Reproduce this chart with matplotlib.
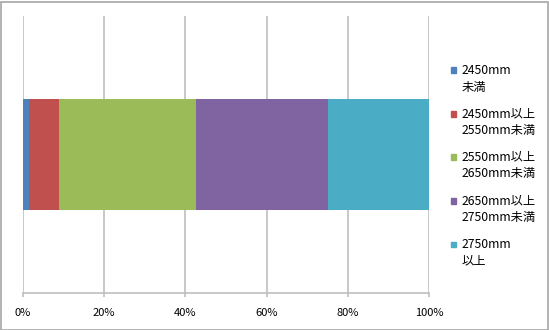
import matplotlib
matplotlib.use("Agg")
import matplotlib.pyplot as plt
from matplotlib.patches import Rectangle
from matplotlib.ticker import PercentFormatter

plt.rcParams['font.family'] = ['Noto Sans CJK JP', 'DejaVu Sans']

categories = [""]
series_labels = ["2450mm\n未満", "2450mm以上\n2550mm未満", "2550mm以上\n2650mm未満",
                 "2650mm以上\n2750mm未満", "2750mm\n以上"]
series_values = [1.6, 7.3, 33.6, 32.5, 25.0]
colors = ["#4F81BD", "#C0504D", "#9BBB59", "#8064A2", "#4BACC6"]
xticks = [0, 20, 40, 60, 80, 100]

W, H = 549, 330
fig = plt.figure(figsize=(W / 100, H / 100), dpi=100)
ax = fig.add_axes([23 / W, (H - 292.5) / H, (429 - 23) / W, (292.5 - 16) / H])

left = 0
for lab, v, c in zip(series_labels, series_values, colors):
    ax.barh(0, v, left=left, height=0.4, color=c, edgecolor='none', zorder=3, label=lab)
    left += v

ax.set_xlim(0, 100)
ax.set_ylim(-0.5, 0.5)
ax.set_xticks(xticks)
ax.xaxis.set_major_formatter(PercentFormatter(decimals=0))
ax.set_yticks([])
ax.grid(axis='x', color='#BFBFBF', linewidth=1.2, zorder=0)
for s in ['top', 'right', 'left']:
    ax.spines[s].set_visible(False)
ax.spines['bottom'].set_color('#BFBFBF')
ax.spines['bottom'].set_linewidth(1.2)
ax.tick_params(axis='x', length=3, width=1.2, color='#BFBFBF', labelsize=8, pad=8,
               labelcolor='#000000')

# legend (manual, text top-aligned with marker on first line)
y0 = 70
step = 43.5
for i, (lab, c) in enumerate(zip(series_labels, colors)):
    y = y0 + i * step
    fig.patches.append(Rectangle((450.5 / W, (H - y - 3) / H), 5.5 / W, 5.5 / H,
                                 transform=fig.transFigure, color=c, figure=fig))
    l1, l2 = lab.split("\n")
    fig.text(461.5 / W, (H - y) / H, l1, fontsize=8.8, va='center', ha='left')
    fig.text(461.5 / W, (H - y - 17) / H, l2, fontsize=8.8, va='center', ha='left')

# chart border
fig.patches.append(Rectangle((0.5 / W, 0.5 / H), (W - 2) / W, (H - 2) / H,
                             transform=fig.transFigure, fill=False,
                             edgecolor='#A6A6A6', linewidth=1.2, figure=fig))

fig.savefig("out.png", dpi=100)
